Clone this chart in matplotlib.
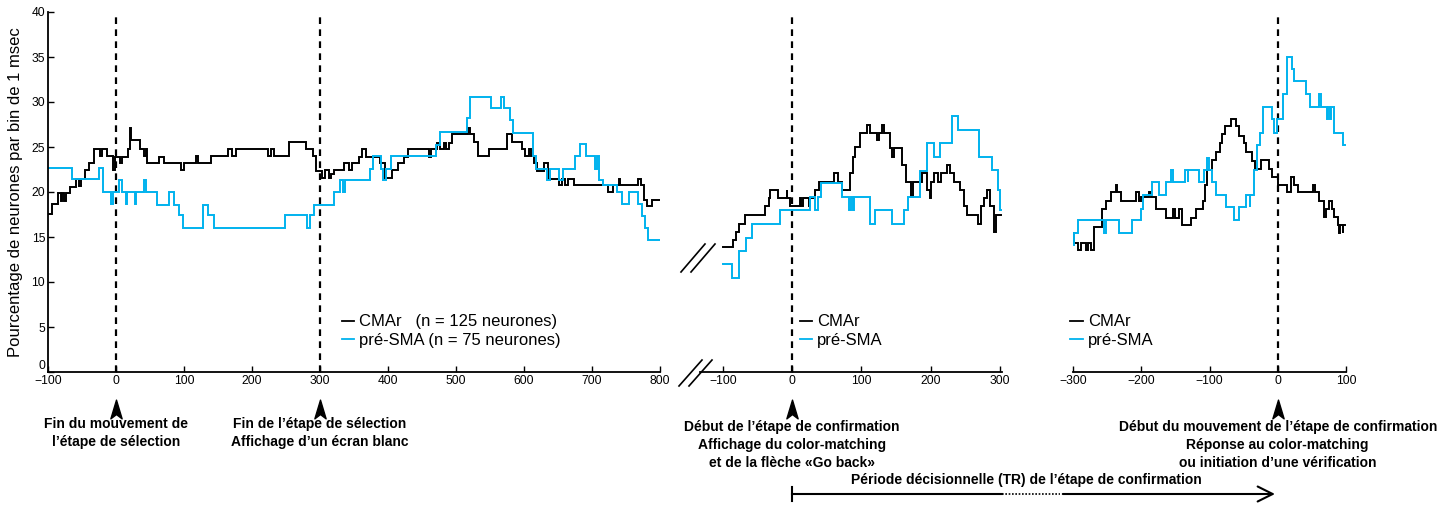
import numpy as np
import matplotlib
matplotlib.use('Agg')
import matplotlib.pyplot as plt
from matplotlib.path import Path
from matplotlib.lines import Line2D
from matplotlib.patches import FancyArrowPatch

plt.rcParams['font.family'] = ['Liberation Sans', 'DejaVu Sans']

# --- Etape de selection: aligned on end of selection movement (ms, % of neurons)
sel_cmar_t = [-100, -94, -86, -81, -79, -77, -73, -67, -59, -54, -52, -45, -40, -32, -24, -20,
              -13, -5, -2, 6, 9, 17, 20, 22, 36, 41, 44, 46, 63, 70, 95, 100, 118, 120, 139,
              164, 171, 177, 223, 228, 232, 254, 279, 289, 294, 303, 308, 313, 316, 320, 335,
              342, 347, 357, 362, 368, 388, 396, 406, 415, 423, 430, 461, 463, 472, 477, 482,
              486, 490, 494, 517, 521, 526, 533, 548, 575, 582, 597, 602, 607, 610, 615, 619,
              629, 636, 651, 656, 660, 664, 673, 724, 731, 739, 741, 768, 772, 776, 781, 788]
sel_cmar_v = [17.6, 18.7, 19.85, 19.0, 19.85, 19.0, 19.85, 20.6, 21.5, 20.7, 21.5, 22.4, 23.2,
              24.8, 24.0, 24.8, 24.0, 22.4, 23.9, 23.2, 23.9, 24.8, 27.1, 25.8, 24.8, 24.0, 24.8,
              23.2, 23.9, 23.2, 22.4, 23.2, 24.0, 23.2, 24.0, 24.8, 24.0, 24.8, 24.0, 24.8, 24.0,
              25.6, 24.8, 24.0, 22.3, 21.6, 22.4, 21.6, 22.0, 22.4, 23.2, 22.4, 23.2, 23.9, 24.8,
              23.9, 23.2, 21.6, 22.4, 23.2, 23.9, 24.8, 23.9, 24.8, 25.4, 24.8, 25.4, 24.8, 25.4,
              26.4, 27.1, 26.4, 25.6, 24.0, 24.8, 26.4, 25.6, 24.8, 24.0, 24.8, 24.0, 23.2, 22.3,
              23.2, 21.5, 20.8, 21.5, 20.8, 21.5, 20.8, 20.0, 20.8, 21.5, 20.8, 21.5, 20.8, 19.1,
              18.4, 19.1]
sel_presma_t = [-100, -64, -25, -19, -7, -5, 4, 9, 14, 16, 28, 30, 41, 44, 61, 78, 85, 93, 98,
                128, 135, 144, 249, 281, 286, 291, 320, 330, 334, 337, 374, 378, 389, 393, 397,
                404, 471, 477, 516, 520, 551, 566, 570, 579, 584, 613, 618, 634, 638, 652, 658,
                675, 683, 691, 705, 707, 711, 716, 737, 744, 754, 768, 773, 778, 783]
sel_presma_v = [22.7, 21.4, 22.7, 20.0, 18.7, 20.0, 21.3, 20.0, 18.7, 20.0, 18.7, 20.0, 21.3,
                20.0, 18.6, 20.0, 18.6, 17.4, 16.0, 18.6, 17.4, 16.0, 17.4, 16.0, 17.4, 18.6,
                20.0, 21.3, 20.0, 21.3, 22.6, 24.0, 22.6, 21.3, 22.6, 24.0, 25.2, 26.7, 28.2,
                30.6, 29.3, 30.6, 29.3, 28.0, 26.6, 24.0, 22.6, 21.3, 22.6, 21.3, 22.6, 24.0,
                25.3, 24.0, 22.6, 24.0, 21.3, 20.8, 20.0, 18.7, 20.0, 18.7, 17.3, 16.0, 14.7]
sel_end = 800

# --- Etape de confirmation: aligned on color-matching display
conf_cmar_t = [-100, -85, -81, -76, -68, -39, -34, -32, -20, -8, -7, -3, 11, 13, 16, 24, 26, 33,
               39, 60, 66, 72, 84, 88, 91, 98, 108, 112, 123, 125, 130, 132, 141, 144, 147, 159,
               164, 171, 174, 188, 195, 199, 200, 205, 211, 215, 224, 228, 234, 243, 248, 253,
               269, 272, 277, 282, 286, 291, 294]
conf_cmar_v = [13.85, 14.7, 15.6, 16.5, 17.4, 18.4, 19.3, 20.2, 19.3, 20.2, 19.3, 18.4, 19.3,
               18.4, 19.3, 18.4, 19.3, 20.2, 21.1, 22.1, 21.1, 20.2, 22.1, 23.9, 25.0, 26.6,
               27.4, 26.6, 25.8, 26.6, 27.4, 26.6, 24.85, 23.9, 24.85, 23.0, 21.1, 19.5, 21.1,
               22.1, 20.2, 19.3, 21.1, 22.1, 21.1, 22.1, 23.0, 22.1, 21.1, 20.2, 18.4, 17.4,
               16.5, 18.4, 19.3, 20.2, 18.4, 15.6, 17.4]
conf_presma_t = [-100, -87, -76, -66, -58, -17, 26, 33, 37, 41, 72, 82, 85, 88, 90, 112, 120,
                 144, 162, 168, 185, 195, 205, 214, 231, 239, 270, 289, 297, 300]
conf_presma_v = [12.0, 10.4, 13.4, 14.85, 16.4, 18.0, 19.4, 18.0, 19.4, 21.0, 19.4, 18.0, 19.4,
                 18.0, 19.4, 16.4, 18.0, 16.4, 18.0, 19.4, 22.3, 25.4, 23.85, 25.4, 28.4, 26.9,
                 23.9, 22.4, 20.2, 18.0]
conf_end = 302

# --- Mouvement de confirmation: aligned on movement onset
mvt_cmar_t = [-300, -298, -293, -288, -281, -278, -273, -269, -257, -252, -245, -237, -235,
              -230, -208, -203, -201, -188, -185, -179, -164, -154, -150, -145, -140, -127,
              -120, -110, -107, -103, -96, -91, -84, -82, -78, -69, -61, -57, -50, -47, -37,
              -34, -25, -13, -8, 0, 14, 19, 24, 29, 51, 55, 60, 68, 70, 75, 79, 83, 88, 90, 91,
              95, 96]
mvt_cmar_v = [15.4, 14.3, 13.55, 14.3, 13.55, 14.3, 13.55, 16.15, 18.1, 19.0, 19.95, 20.8,
              19.95, 19.0, 19.95, 19.0, 19.5, 19.95, 19.5, 18.1, 17.15, 18.1, 17.15, 18.1, 16.3,
              17.15, 18.1, 19.0, 20.8, 22.4, 23.55, 24.5, 25.4, 26.4, 27.3, 28.1, 27.3, 26.2,
              25.4, 24.5, 23.5, 22.6, 23.55, 22.6, 21.7, 20.8, 20.0, 21.7, 20.8, 20.0, 20.8,
              20.0, 19.0, 17.2, 18.1, 19.0, 18.1, 17.2, 16.3, 15.4, 16.3, 15.4, 16.3]
mvt_presma_t = [-300, -298, -293, -255, -252, -232, -213, -201, -197, -184, -174, -164, -157,
                -153, -136, -132, -131, -115, -108, -103, -101, -96, -91, -76, -64, -57, -47,
                -41, -40, -35, -30, -26, -22, -9, -5, -1, 8, 14, 21, 24, 42, 47, 61, 63, 72, 73,
                76, 78, 83, 96]
mvt_presma_v = [14.1, 15.4, 16.9, 15.4, 16.9, 15.4, 16.9, 18.1, 19.7, 21.1, 19.7, 21.1, 22.5,
                21.1, 22.5, 21.1, 22.5, 21.1, 22.5, 23.8, 22.5, 21.1, 19.7, 18.3, 16.9, 18.3,
                19.7, 18.3, 19.7, 22.5, 25.2, 26.6, 29.5, 28.1, 26.6, 28.1, 30.85, 35.0, 33.7,
                32.3, 30.85, 29.5, 30.85, 29.5, 28.1, 29.5, 28.1, 29.5, 26.6, 25.2]
mvt_end = 98

CMAR = 'black'
PRESMA = '#00b2ee'
W, H = 1454, 505


def px_box(x0, x1, y0=12, y1=372):
    return [x0 / W, 1 - y1 / H, (x1 - x0) / W, (y1 - y0) / H]


def steps(ax, t, v, t_end, color, label=None):
    ax.plot(list(t) + [t_end], list(v) + [v[-1]], drawstyle='steps-post',
            color=color, lw=1.4, label=label, solid_joinstyle='miter')


def style_axis(ax, xlim, xticks, with_y=False):
    ax.set_xlim(*xlim)
    ax.set_ylim(0, 40)
    ax.set_xticks(xticks)
    for s in ['top', 'right']:
        ax.spines[s].set_visible(False)
    ax.spines['bottom'].set_linewidth(1.3)
    ax.spines['left'].set_linewidth(1.3)
    ax.tick_params(direction='in', length=4, width=1, labelsize=8.7, pad=2)
    if with_y:
        ax.set_yticks(np.arange(0, 41, 5))
    else:
        ax.spines['left'].set_visible(False)
        ax.tick_params(axis='y', left=False, labelleft=False)
    ax.patch.set_alpha(0)


fig = plt.figure(figsize=(W / 100, H / 100), dpi=100)
ax_sel = fig.add_axes(px_box(48, 660))
ax_conf = fig.add_axes(px_box(700, 1002))
ax_mvt = fig.add_axes(px_box(1073, 1346))

style_axis(ax_sel, (-100, 800), range(-100, 801, 100), with_y=True)
style_axis(ax_conf, (-133, 303), range(-100, 301, 100))
style_axis(ax_mvt, (-300, 100), range(-300, 101, 100))
ax_sel.set_ylabel('Pourcentage de neurones par bin de 1 msec', fontsize=12, labelpad=6)
# lift the "0" so it clears the -100 below it
ax_sel.get_yticklabels()[0].set_va('bottom')

dash = (0, (3, 2.4))
for x in (0, 300):
    ax_sel.axvline(x, color='k', ls=dash, lw=1.6)
ax_conf.axvline(0, color='k', ls=dash, lw=1.6)
ax_mvt.axvline(0, color='k', ls=dash, lw=1.6)

steps(ax_sel, sel_cmar_t, sel_cmar_v, sel_end, CMAR, 'CMAr   (n = 125 neurones)')
steps(ax_sel, sel_presma_t, sel_presma_v, sel_end, PRESMA, 'pré-SMA (n = 75 neurones)')
steps(ax_conf, conf_cmar_t, conf_cmar_v, conf_end, CMAR, 'CMAr')
steps(ax_conf, conf_presma_t, conf_presma_v, conf_end, PRESMA, 'pré-SMA')
steps(ax_mvt, mvt_cmar_t, mvt_cmar_v, mvt_end, CMAR, 'CMAr')
steps(ax_mvt, mvt_presma_t, mvt_presma_v, mvt_end, PRESMA, 'pré-SMA')

leg_kw = dict(frameon=False, fontsize=12, handlelength=0.75, handletextpad=0.3,
              labelspacing=0.22, borderpad=0, borderaxespad=0, loc='upper left')
for ax, x0 in ((ax_sel, 0.48), (ax_conf, 0.33), (ax_mvt, -0.01)):
    leg = ax.legend(bbox_to_anchor=(x0, 0.16), **leg_kw)
    for h in leg.get_lines():
        h.set_linewidth(1.3)


# axis break marks
def fig_line(xs, ys, **kw):
    fig.add_artist(Line2D([x / W for x in xs], [1 - y / H for y in ys],
                          transform=fig.transFigure, color='k', lw=1.2, **kw))


for dx in (0, 10):
    fig_line([681 + dx, 705 + dx], [272, 244])
    fig_line([679 + dx, 702 + dx], [386, 360])

# event markers under the time axes
head = Path([(0, 0.5), (-0.3, -0.5), (0, -0.27), (0.3, -0.5), (0, 0.5)],
            [Path.MOVETO, Path.LINETO, Path.LINETO, Path.LINETO, Path.CLOSEPOLY])


def fig_x(ax, x):
    return fig.transFigure.inverted().transform(ax.transData.transform((x, 0)))[0]


ann_font = dict(weight='bold', fontsize=10, ha='center', va='top', linespacing=1.36)
events = [
    (ax_sel, 0, 'Fin du mouvement de\nl’étape de sélection'),
    (ax_sel, 300, 'Fin de l’étape de sélection\nAffichage d’un écran blanc'),
    (ax_conf, 0, 'Début de l’étape de confirmation\nAffichage du color-matching\net de la flèche «Go back»'),
    (ax_mvt, 0, 'Début du mouvement de l’étape de confirmation\nRéponse au color-matching\nou initiation d’une vérification'),
]
for i, (ax, x, txt) in enumerate(events):
    fx = fig_x(ax, x)
    fig.add_artist(Line2D([fx], [1 - 409 / H], marker=head, markersize=13.5, color='k',
                          ls='none', transform=fig.transFigure))
    ty = 417 if i < 2 else 420
    fig.text(fx, 1 - ty / H, txt, **ann_font)

# decision period (TR) arrow
x0 = fig_x(ax_conf, 0)
xg0 = fig_x(ax_conf, 303)
xg1 = 1060 / W
x1 = fig_x(ax_mvt, 0)
ya = 1 - 494 / H
fig.add_artist(Line2D([x0, xg0], [ya, ya], color='k', lw=1.5, transform=fig.transFigure))
fig.add_artist(Line2D([xg0, xg1], [ya, ya], color='k', lw=1.2, ls=(0, (1, 1)),
                      transform=fig.transFigure))
fig.add_artist(Line2D([x0, x0], [1 - 487 / H, 1 - 501 / H], color='k', lw=1.5,
                      transform=fig.transFigure))
fig.add_artist(FancyArrowPatch((xg1, ya), (x1, ya), transform=fig.transFigure,
                               arrowstyle='->,head_length=0.9,head_width=0.45',
                               mutation_scale=12, lw=1.5, color='k'))
fig.text(1026 / W, 1 - 480 / H, 'Période décisionnelle (TR) de l’étape de confirmation',
         **dict(ann_font, va='center'))

fig.savefig('out.png', dpi=100)
